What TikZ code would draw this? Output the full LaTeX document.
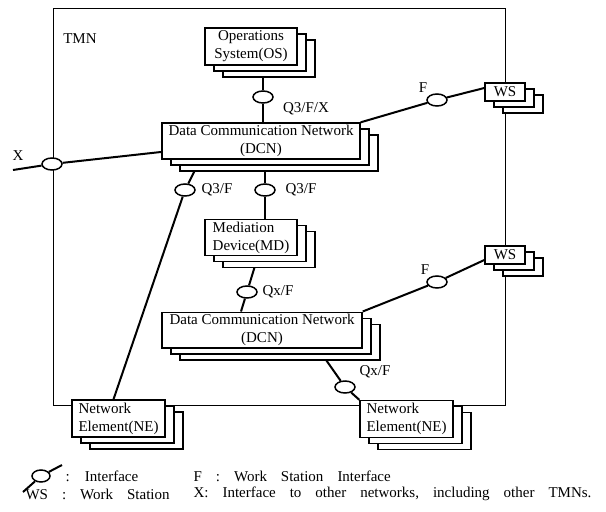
\documentclass[tikz,border=0pt]{standalone}
\usepackage{fontspec}
\setmainfont{Liberation Serif}
\usetikzlibrary{shapes.geometric,shadows,calc,backgrounds}

\begin{document}
\begin{tikzpicture}[x=1pt,y=-1pt,
    font=\fontsize{15}{18}\selectfont,
    unit/.style={draw, fill=white, line width=1.4pt, inner sep=2pt,
      copy shadow={shadow xshift=18pt, shadow yshift=-12pt, opacity=1},
      copy shadow={shadow xshift=9pt, shadow yshift=-6pt, opacity=1}},
    iface/.style={ellipse, draw, fill=white, line width=1.5pt,
      minimum width=20pt, minimum height=12pt, inner sep=0pt},
    link/.style={line width=2pt},
    lbl/.style={inner sep=0pt},
    legend/.style={anchor=west, execute at begin node={\spaceskip=14pt\relax}},
    tmnbox/.style={draw, line width=0.8pt, inner sep=0pt,
      minimum width=452pt, minimum height=397pt},
  ]
\useasboundingbox (0,0) rectangle (606,512);

% managed units
\node[unit, minimum width=92pt, minimum height=37pt, align=center] (os) at (251,46.5) {Operations\\System(OS)};
\node[unit, minimum width=198pt, minimum height=36pt, align=center] (dcn1) at (261,141) {Data Communication Network\\(DCN)};
\node[unit, minimum width=92pt, minimum height=35pt, align=left] (md) at (251,237.5) {Mediation\\Device(MD)};
\node[unit, minimum width=200pt, minimum height=34pt, align=center] (dcn2) at (262,330) {Data Communication Network\\(DCN)};
\node[unit, minimum width=93pt, minimum height=37pt, align=left] (ne1) at (118.5,418.5) {Network\\Element(NE)};
\node[unit, minimum width=93pt, minimum height=37pt, align=left] (ne2) at (406.5,419) {Network\\Element(NE)};
\node[unit, minimum width=40pt, minimum height=18pt, inner sep=1pt] (ws1) at (505,92) {WS};
\node[unit, minimum width=40pt, minimum height=18pt, inner sep=1pt] (ws2) at (505,255) {WS};

% interfaces
\node[iface] (iOS) at (263,97) {};
\node[iface] (iX) at (52,164) {};
\node[iface] (iF1) at (437,100) {};
\node[iface] (iQl) at (185,190) {};
\node[iface] (iQr) at (265,190) {};
\node[iface] (iMD) at (247,292) {};
\node[iface] (iF2) at (437,282) {};
\node[iface] (iNE) at (345,387) {};
\coordinate (xend) at (13,170);

% interface labels
\node[lbl] (tmnlbl) at (80,39) {TMN};
\node[lbl] (lQ3FX) at (306,109) {Q3/F/X};
\node[lbl] (lQ3Fl) at (217,190) {Q3/F};
\node[lbl] (lQ3Fr) at (301,190) {Q3/F};
\node[lbl] (lQxF1) at (278,292) {Qx/F};
\node[lbl] (lQxF2) at (375,372) {Qx/F};
\node[lbl] (lF1) at (423,88) {F};
\node[lbl] (lF2) at (425,270) {F};
\node[lbl] (lX) at (18,156) {X};

\begin{scope}[on background layer]
  \node[tmnbox] (tmn) at (279,206.5) {};
  \draw[link] (iOS |- os.south) -- (iOS) -- (iOS |- dcn1.north);
  \draw[link] (xend) -- (iX) -- (dcn1);
  \draw[link] (dcn1.north east) -- (iF1) -- ($(ws1.west)+(0,-4)$);
  \draw[link] ($(dcn1.south west)+(39,0)$) -- (iQl) -- ($(ne1.north)+(-5,0)$);
  \draw[link] (iQr |- dcn1.south) -- (iQr) -- (iQr |- md.north);
  \draw[link] ($(md.south)+(7,0)$) -- (iMD) -- ($(dcn2.north)+(-21,0)$);
  \draw[link] (dcn2.north east) -- (iF2) -- ($(ws2.west)+(0,5)$);
  \draw[link] ($(dcn2.south)+(56,0)$) -- (iNE) -- (ne2.north west);
\end{scope}

% legend
\coordinate (lgA) at (23,492);
\coordinate (lgB) at (62,465);
\node[iface, minimum width=18pt] (lgI) at (41,476) {};
\draw[link] (lgA) -- (lgI) -- (lgB);
\node[legend] (lgIf) at (62,476) {: Interface};
\node[legend] (lgWS) at (22,494) {WS : Work Station};
\node[legend] (lgF) at (190,476) {F : Work Station Interface};
\node[legend] (lgX) at (190,494) {X: Interface to other networks, including other TMNs.};
\end{tikzpicture}
\end{document}
